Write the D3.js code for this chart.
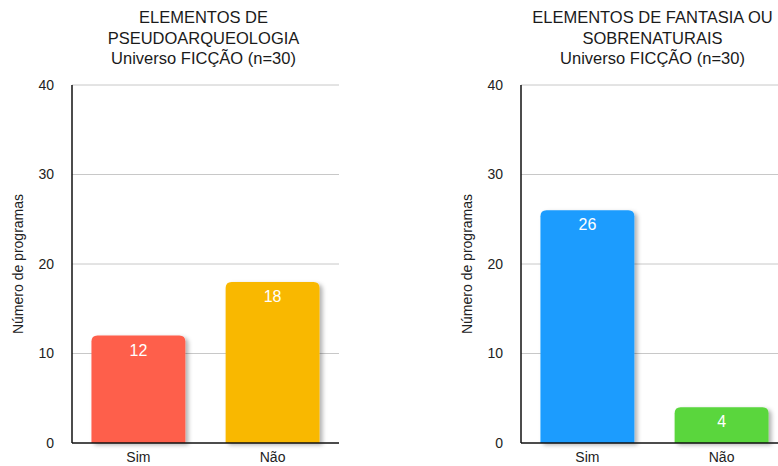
<!DOCTYPE html>
<html>
<head>
<meta charset="utf-8">
<script src="https://cdn.jsdelivr.net/npm/d3@7/dist/d3.min.js"></script>
<style>
  html, body { margin: 0; padding: 0; background: #fff; }
  svg { display: block; font-family: "Liberation Sans", Arial, Helvetica, sans-serif; }
</style>
</head>
<body>
<svg id="chart" width="778" height="466"></svg>
<script>
// Categories and counts for each panel
const categories = ["Sim", "Não"];
const pseudoValues = [12, 18];
const fantasyValues = [26, 4];
const pseudoColors = ["#fe5f4b", "#f9b800"];
const fantasyColors = ["#1a9cfe", "#5ad63c"];
const pseudoTitle = ["ELEMENTOS DE", "PSEUDOARQUEOLOGIA", "Universo FICÇÃO (n=30)"];
const fantasyTitle = ["ELEMENTOS DE FANTASIA OU", "SOBRENATURAIS", "Universo FICÇÃO (n=30)"];
const yTicks = [0, 10, 20, 30, 40];
const yLabel = "Número de programas";

const svg = d3.select("#chart");

// Soft shadow falling to the lower right of each bar
const defs = svg.append("defs");
const f = defs.append("filter").attr("id", "barShadow")
  .attr("x", "-20%").attr("y", "-20%").attr("width", "150%").attr("height", "140%");
f.append("feDropShadow").attr("dx", 3).attr("dy", 2)
  .attr("stdDeviation", 2.2).attr("flood-color", "#000").attr("flood-opacity", 0.3);

const plotTop = 85, plotBottom = 443, plotW = 267;

function panel(x0, titleLines, values, colors) {
  const g = svg.append("g");
  const x = d3.scaleBand().domain(categories).range([x0, x0 + plotW])
    .paddingInner(0.3).paddingOuter(0.145);
  const y = d3.scaleLinear().domain([0, 40]).range([plotBottom, plotTop]);

  // Title
  g.append("text").attr("text-anchor", "middle").attr("fill", "#1a1a1a")
    .attr("font-size", 16.5)
    .selectAll("tspan").data(titleLines).join("tspan")
    .attr("x", x0 + plotW / 2 - 2)
    .attr("y", (d, i) => 23 + i * 20.5)
    .text(d => d);

  // Horizontal grid
  g.append("g").selectAll("line").data(yTicks.filter(t => t > 0)).join("line")
    .attr("x1", x0).attr("x2", x0 + plotW)
    .attr("y1", d => y(d)).attr("y2", d => y(d))
    .attr("stroke", "#c8c8c8").attr("stroke-width", 1);

  // Y axis with labels only
  const ya = g.append("g").attr("transform", `translate(${x0},0)`)
    .call(d3.axisLeft(y).tickValues(yTicks).tickSize(0).tickPadding(18));
  ya.select(".domain").remove();
  ya.selectAll("text").attr("font-size", 14).attr("fill", "#222")
    .attr("font-family", "Liberation Sans, Arial, sans-serif");

  // Bars with rounded top corners
  const r = 6;
  const bw = x.bandwidth();
  g.append("g").selectAll("path").data(values).join("path")
    .attr("filter", "url(#barShadow)")
    .attr("fill", (d, i) => colors[i])
    .attr("d", (d, i) => {
      const bx = x(categories[i]), by = y(d), h = y(0) - y(d);
      return `M${bx},${by + h}V${by + r}Q${bx},${by} ${bx + r},${by}` +
        `H${bx + bw - r}Q${bx + bw},${by} ${bx + bw},${by + r}V${by + h}Z`;
    });

  // Value labels inside the bar tops
  g.append("g").selectAll("text").data(values).join("text")
    .attr("x", (d, i) => x(categories[i]) + bw / 2)
    .attr("y", d => y(d) + 20)
    .attr("text-anchor", "middle").attr("fill", "#fff").attr("font-size", 16)
    .text(d => d);

  // Axis lines
  g.append("line").attr("x1", x0).attr("x2", x0).attr("y1", plotTop).attr("y2", plotBottom)
    .attr("stroke", "#111").attr("stroke-width", 1.5);
  g.append("line").attr("x1", x0).attr("x2", x0 + plotW).attr("y1", plotBottom).attr("y2", plotBottom)
    .attr("stroke", "#111").attr("stroke-width", 1.5);

  // Category labels
  const xa = g.append("g").attr("transform", `translate(0,${plotBottom})`)
    .call(d3.axisBottom(x).tickSize(0).tickPadding(9));
  xa.select(".domain").remove();
  xa.selectAll("text").attr("font-size", 14).attr("fill", "#222")
    .attr("font-family", "Liberation Sans, Arial, sans-serif");

  // Y axis title
  g.append("text")
    .attr("transform", `translate(${x0 - 49},${(plotTop + plotBottom) / 2}) rotate(-90)`)
    .attr("text-anchor", "middle").attr("font-size", 14).attr("fill", "#222")
    .text(yLabel);
}

panel(72, pseudoTitle, pseudoValues, pseudoColors);
panel(521, fantasyTitle, fantasyValues, fantasyColors);
</script>
</body>
</html>
